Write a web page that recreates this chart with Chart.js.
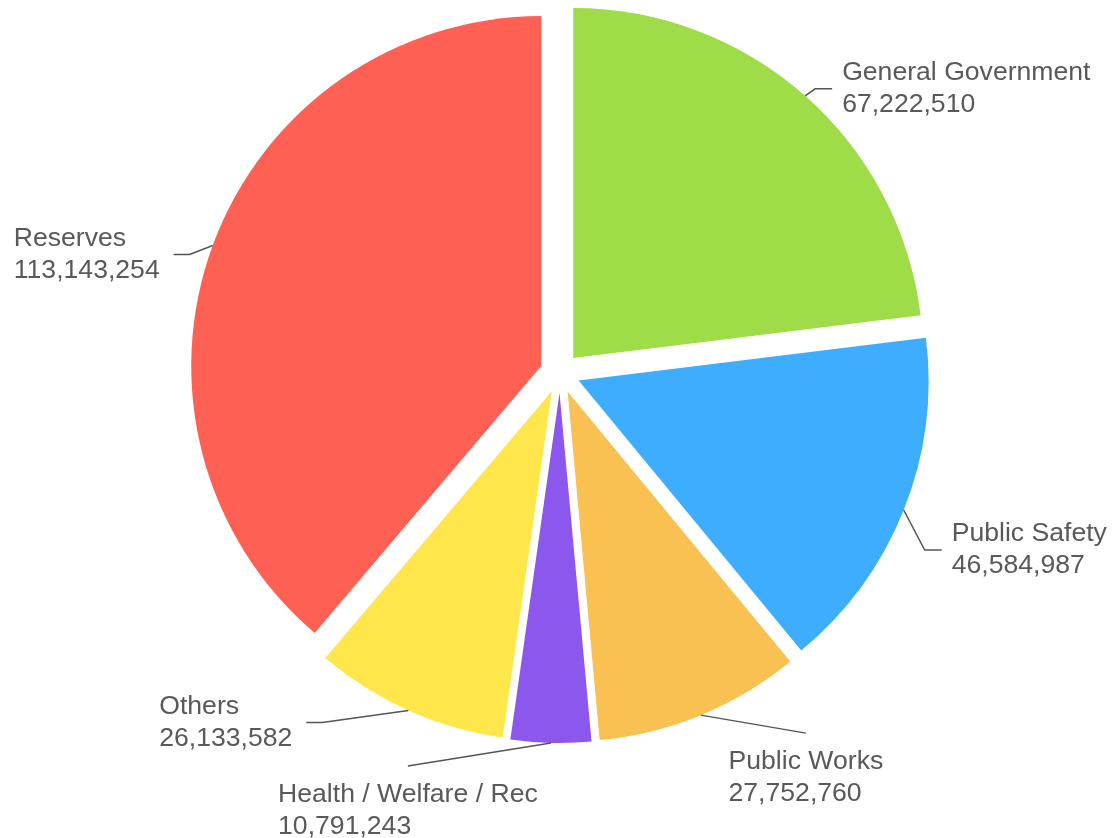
<!DOCTYPE html>
<html>
<head>
<meta charset="utf-8">
<script src="https://cdn.jsdelivr.net/npm/chart.js@4.4.1/dist/chart.umd.min.js"></script>
<style>
  html, body { margin: 0; padding: 0; background: #fff; overflow: hidden; }
  canvas { display: block; }
</style>
</head>
<body>
<canvas id="budget" width="1112" height="838"></canvas>
<script>
// Budget allocation by function
const categories = ['General Government', 'Public Safety', 'Public Works', 'Health / Welfare / Rec', 'Others', 'Reserves'];
const amounts = [67222510, 46584987, 27752760, 10791243, 26133582, 113143254];
const sliceColors = ['#9edc48', '#3fadfd', '#f9c152', '#8b57ec', '#fee64b', '#fe6154'];

// Leader-line layout for each slice label: bend from the rim point, horizontal arm, text side
const leaderLayout = [
  { bend: [10, -7],   arm: 17,  side: 'right' },
  { bend: [21, 40],   arm: 17,  side: 'right' },
  { bend: [105, 18],  arm: 0,   side: 'below' },
  { bend: [-143, 23], arm: 0,   side: 'below' },
  { bend: [-86, 12],  arm: -16, side: 'left' },
  { bend: [-23, 9],   arm: -16, side: 'left' }
];

const PIE_RADIUS = 350;
const EXPLODE = 80;            // arc offset option; Chart.js moves each slice by offset / 4
const SHIFT = EXPLODE / 4;
const LABEL_FONT = '26.6px "Liberation Sans", Arial, sans-serif';
const LABEL_COLOR = '#595959';
const LINE_COLOR = '#555555';

function groupDigits(n) {
  return String(n).replace(/\B(?=(\d{3})+(?!\d))/g, ',');
}

// Keep every exploded slice at the same outer radius and its exact angular span
const evenRim = {
  id: 'evenRim',
  afterDatasetUpdate(chart, args) {
    const meta = chart.getDatasetMeta(args.index);
    const R = meta.controller.outerRadius;
    meta.data.forEach(arc => {
      const fix = 1 - Math.sin(Math.min(Math.PI, arc.circumference || 0));
      arc.outerRadius = R - SHIFT * fix;
      const widen = (SHIFT * fix) / (2 * Math.PI * R);
      arc.startAngle -= widen;
      arc.endAngle += widen;
    });
  }
};

// Outside labels with leader lines
const leaderLabels = {
  id: 'leaderLabels',
  afterDatasetsDraw(chart) {
    const meta = chart.getDatasetMeta(0);
    const R = meta.controller.outerRadius;
    const ctx = chart.ctx;
    ctx.save();
    ctx.font = LABEL_FONT;
    ctx.fillStyle = LABEL_COLOR;
    ctx.strokeStyle = LINE_COLOR;
    ctx.lineWidth = 1.5;
    ctx.textBaseline = 'middle';
    ctx.textAlign = 'left';
    meta.data.forEach((arc, i) => {
      const mid = (arc.startAngle + arc.endAngle) / 2;
      const cx = arc.x + Math.cos(mid) * SHIFT;
      const cy = arc.y + Math.sin(mid) * SHIFT;
      const rx = cx + Math.cos(mid) * R;
      const ry = cy + Math.sin(mid) * R;
      const L = leaderLayout[i];
      const ex = rx + L.bend[0];
      const ey = ry + L.bend[1];
      const ax = ex + L.arm;

      ctx.beginPath();
      ctx.moveTo(rx, ry);
      ctx.lineTo(ex, ey);
      if (L.arm) ctx.lineTo(ax, ey);
      ctx.stroke();

      const lines = [categories[i], groupDigits(amounts[i])];
      const w = Math.max(...lines.map(s => ctx.measureText(s).width));
      let x, y0, y1;
      if (L.side === 'right') {
        x = ax + 10; y0 = ey - 16; y1 = ey + 16;
      } else if (L.side === 'left') {
        x = ax - 14 - w; y0 = ey - 16; y1 = ey + 16;
      } else {
        x = ex - w / 2; y0 = ey + 29; y1 = ey + 61;
      }
      ctx.fillText(lines[0], x, y0);
      ctx.fillText(lines[1], x, y1);
    });
    ctx.restore();
  }
};

new Chart(document.getElementById('budget'), {
  type: 'pie',
  data: {
    labels: categories,
    datasets: [{
      data: amounts,
      backgroundColor: sliceColors,
      borderWidth: 0,
      offset: EXPLODE,
      radius: PIE_RADIUS
    }]
  },
  options: {
    responsive: false,
    animation: false,
    devicePixelRatio: 1,
    layout: { padding: { top: 0, bottom: 92, left: 8, right: 0 } },
    plugins: {
      legend: { display: false },
      tooltip: { enabled: false }
    }
  },
  plugins: [evenRim, leaderLabels]
});
</script>
</body>
</html>
